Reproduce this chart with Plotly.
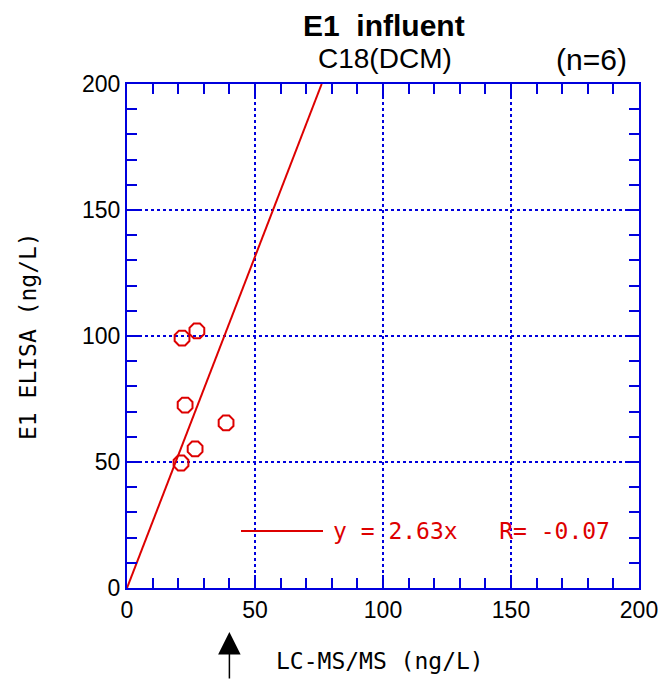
import plotly.graph_objects as go

lcms = [21.5, 27.3, 22.7, 38.7, 26.6, 21.1]
elisa = [99.2, 102.0, 72.6, 65.5, 55.2, 49.6]
slope = 2.63
r_value = -0.07
n = 6
line_x = [0, 200 / slope]
line_y = [slope * v for v in line_x]
arrow_x = 40

# browser body has an 8px default margin; compensate so the figure fills 672x680
OFF = 8
W, H = 672 - OFF, 680 - OFF
L, T = 127 - OFF, 84 - OFF
PW, PH = 512, 504
R, B = W - L - PW, H - T - PH


def px(xp):
    return (xp - 127) / PW


def py(yp):
    return (588 - yp) / PH


red = "#dd0000"
blue = "#0000dd"

fig = go.Figure()
fig.add_trace(go.Scatter(x=line_x, y=line_y, mode="lines",
                         line=dict(color=red, width=2), showlegend=False))
fig.add_trace(go.Scatter(x=lcms, y=elisa, mode="markers",
                         marker=dict(symbol="octagon-open", size=16, color=red,
                                     line=dict(width=2, color=red)),
                         showlegend=False))

axcommon = dict(range=[0, 200], dtick=50, showline=True, linecolor=blue, linewidth=2,
                mirror="ticks", ticks="inside", ticklen=13, tickwidth=2, tickcolor=blue,
                showgrid=True, gridcolor=blue, griddash="dot", gridwidth=1.5,
                zeroline=False, tickfont=dict(family="Liberation Sans, Arial", size=23, color="black"),
                minor=dict(dtick=10, ticks="inside", ticklen=10, tickwidth=2, tickcolor=blue, showgrid=False))
fig.update_xaxes(**axcommon)
fig.update_yaxes(**axcommon)

mono = "DejaVu Sans Mono, Liberation Mono, monospace"
sans = "Liberation Sans, Arial, sans-serif"
anns = [
    dict(text="E1  influent", xref="paper", yref="paper", x=px(384), y=py(26),
         showarrow=False, font=dict(family=sans, size=30, color="black", weight="bold"),
         yanchor="middle", xanchor="center"),
    dict(text="C18(DCM)", xref="paper", yref="paper", x=px(385), y=py(59),
         showarrow=False, font=dict(family=sans, size=28, color="black"),
         yanchor="middle", xanchor="center"),
    dict(text="(n=%d)" % n, xref="paper", yref="paper", x=px(591), y=py(60),
         showarrow=False, font=dict(family=sans, size=30, color="black"),
         yanchor="middle", xanchor="center"),
    dict(text="y = %.2fx   R= %.2f" % (slope, r_value), xref="paper", yref="paper",
         x=px(331), y=py(531), xanchor="left", yanchor="middle", showarrow=False,
         font=dict(family=mono, size=23, color=red)),
    dict(text="LC-MS/MS (ng/L)", xref="paper", yref="paper", x=px(380), y=py(661),
         xanchor="center", yanchor="middle", showarrow=False,
         font=dict(family=mono, size=23, color="black")),
    dict(text="E1 ELISA (ng/L)", xref="paper", yref="paper", x=px(28), y=py(336),
         xanchor="center", yanchor="middle", showarrow=False, textangle=-90,
         font=dict(family=mono, size=23, color="black")),
    dict(text="", x=arrow_x, xref="x", y=py(632), yref="paper",
         ax=0, ay=50, axref="pixel", ayref="pixel", showarrow=True, arrowhead=2, arrowsize=3,
         arrowwidth=1.5, arrowcolor="black"),
]
fig.update_layout(
    width=W, height=H, margin=dict(l=L, r=R, t=T, b=B, autoexpand=False),
    plot_bgcolor="white", paper_bgcolor="white", annotations=anns,
)
fig.add_shape(type="line", xref="paper", yref="paper", x0=px(241), x1=px(323),
              y0=py(531), y1=py(531), line=dict(color=red, width=2))

fig.write_html("out.html")
